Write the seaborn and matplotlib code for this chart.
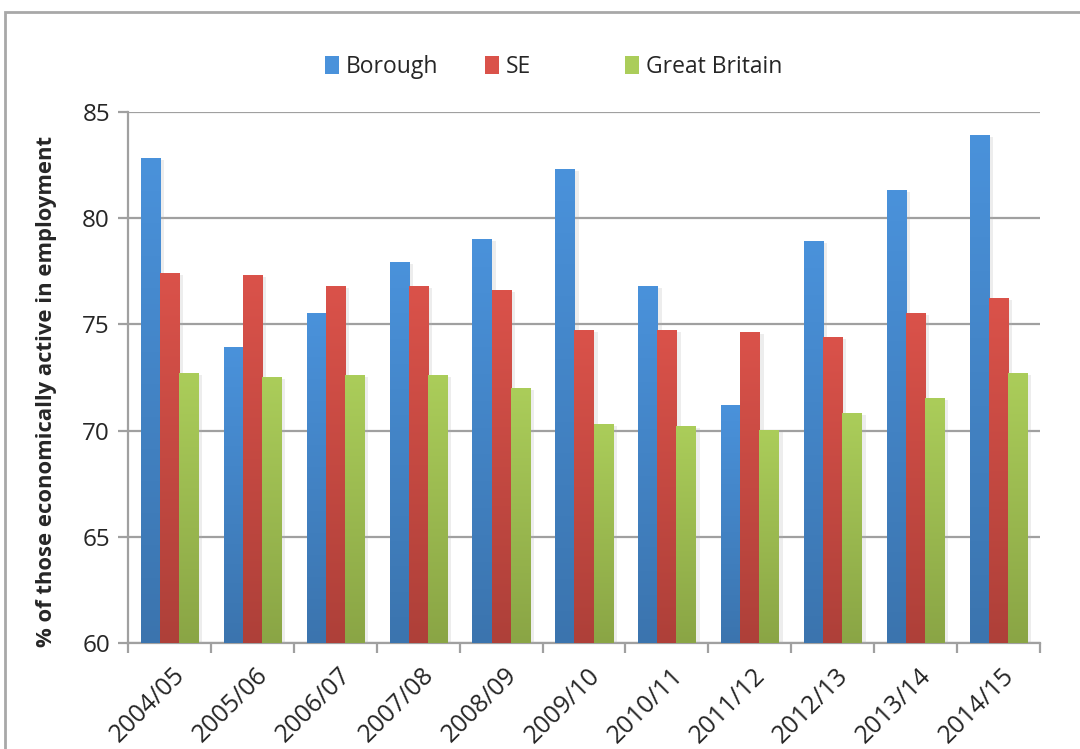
import numpy as np
import pandas as pd
import matplotlib
matplotlib.use("Agg")
import matplotlib.pyplot as plt
import matplotlib.patheffects as pe
import matplotlib.transforms as mtransforms
from matplotlib.colors import LinearSegmentedColormap
from matplotlib.patches import Rectangle
import seaborn as sns

years = ["2004/05", "2005/06", "2006/07", "2007/08", "2008/09", "2009/10",
         "2010/11", "2011/12", "2012/13", "2013/14", "2014/15"]
borough = [82.8, 73.9, 75.5, 77.9, 79.0, 82.3, 76.8, 71.2, 78.9, 81.3, 83.9]
se = [77.4, 77.3, 76.8, 76.8, 76.6, 74.7, 74.7, 74.6, 74.4, 75.5, 76.2]
gb = [72.7, 72.5, 72.6, 72.6, 72.0, 70.3, 70.2, 70.0, 70.8, 71.5, 72.7]
series = ["Borough", "SE", "Great Britain"]

# top / bottom colours of each series' vertical gradient
top_colors = ["#4A92DB", "#DA524A", "#ABCD5A"]
bottom_colors = ["#3B74AE", "#AE4039", "#8AA545"]

df = pd.DataFrame({
    "year": years * 3,
    "value": borough + se + gb,
    "series": [s for s in series for _ in years],
})

sns.set_theme(style="white")
plt.rcParams["font.family"] = ["Open Sans", "DejaVu Sans"]

YMIN, YMAX = 60, 85

fig = plt.figure(figsize=(10.8, 7.49), dpi=100)
ax = fig.add_axes([0.1185, 0.1415, 0.8445, 0.709])

sns.barplot(data=df, x="year", y="value", hue="series", hue_order=series,
            palette=bottom_colors, width=0.69, gap=0, ax=ax, legend=False,
            edgecolor="none", linewidth=0, zorder=3)

ax.set_ylim(YMIN, YMAX)
ax.set_xlim(-0.5, len(years) - 0.5)

# vertical gradient fill over the visible part of every bar, with a soft shadow
for container, ctop, cbot in zip(ax.containers, top_colors, bottom_colors):
    cmap = LinearSegmentedColormap.from_list("g", [cbot, ctop])
    grad = np.linspace(0, 1, 256).reshape(-1, 1)
    for bar in container:
        x0, w = bar.get_x(), bar.get_width()
        top = bar.get_y() + bar.get_height()
        bar.set_path_effects([
            pe.SimplePatchShadow(offset=(3, -1), shadow_rgbFace="#b0b0b0", alpha=0.22),
            pe.Normal(),
        ])
        ax.imshow(grad, extent=(x0, x0 + w, YMIN, top), origin="lower",
                  cmap=cmap, aspect="auto", zorder=4, interpolation="bilinear")

ax.set_xlim(-0.5, len(years) - 0.5)
ax.set_ylim(YMIN, YMAX)

# grid and axes
ax.set_yticks([60, 65, 70, 75, 80, 85])
ax.yaxis.grid(True, color="#A0A0A0", linewidth=1.6, zorder=0)
ax.xaxis.grid(False)
for side in ["top", "right"]:
    ax.spines[side].set_visible(False)
for side in ["left", "bottom"]:
    ax.spines[side].set_color("#A0A0A0")
    ax.spines[side].set_linewidth(1.6)
ax.set_axisbelow(True)

ax.set_xticks(np.arange(len(years)))
ax.set_xticks(np.arange(len(years) + 1) - 0.5, minor=True)
ax.tick_params(axis="x", which="major", length=0, pad=2, labelsize=18)
ax.tick_params(axis="x", which="minor", length=7, width=1.6, color="#A0A0A0",
               direction="out", bottom=True)
ax.tick_params(axis="y", which="major", length=7, width=1.6, color="#A0A0A0",
               direction="out", left=True, labelsize=17.5, pad=6)
shift = mtransforms.ScaledTranslation(0.12, -0.26, fig.dpi_scale_trans)
for lab in ax.get_xticklabels():
    lab.set_rotation(45)
    lab.set_ha("right")
    lab.set_va("center")
    lab.set_rotation_mode("anchor")
    lab.set_transform(lab.get_transform() + shift)

ax.set_xlabel("")
ax.set_ylabel("% of those economically active in employment", fontsize=15.8,
              fontweight="bold", labelpad=18)
ax.yaxis.label.set_y(0.473)

# legend entries laid out across the top
legend_x = [325 / 1080, 485 / 1080, 625 / 1080]
for name, col, lx in zip(series, top_colors, legend_x):
    h = Rectangle((0, 0), 1, 1, facecolor=col, edgecolor="none")
    fig.legend([h], [name], loc="center left", bbox_to_anchor=(lx, 1 - 67 / 749),
               frameon=False, fontsize=16.5, handlelength=0.62, handleheight=0.8,
               handletextpad=0.3, borderpad=0, borderaxespad=0)

# outer chart frame
fig.patches.append(Rectangle((5 / 1080, -0.1), 1.2, 1.1 - 12 / 749,
                             transform=fig.transFigure, fill=False,
                             edgecolor="#A8A8A8", linewidth=2.0))

fig.savefig("out.png", dpi=100)
